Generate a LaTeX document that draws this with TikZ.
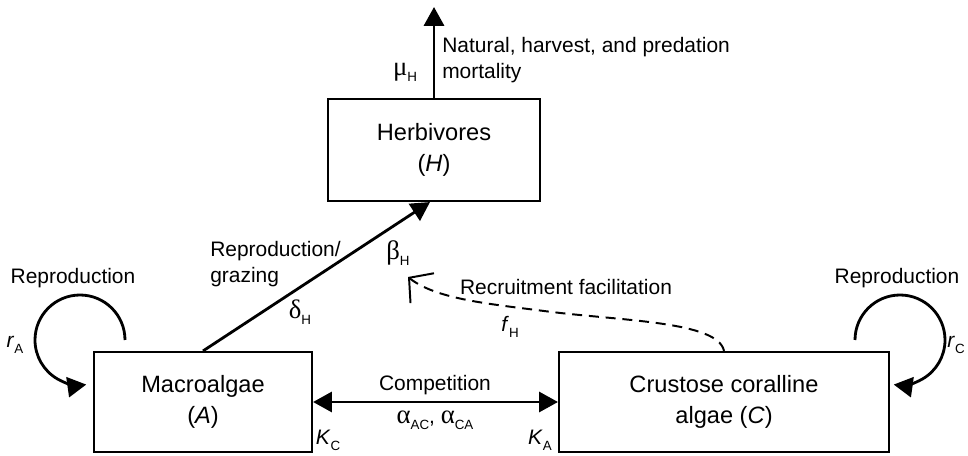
\documentclass[tikz,border=0pt]{standalone}
\usepackage{fontspec}
\setmainfont{Liberation Sans}
\newfontfamily\grk{Liberation Serif}
\usepackage{xcolor}
\usepackage{tikz}
\usetikzlibrary{positioning,arrows.meta}

\newcommand{\gsym}[1]{{\grk\fontsize{19}{19}\selectfont #1}}
\newcommand{\lowsub}[1]{\raisebox{-0.55ex}{\fontsize{9.5}{10}\selectfont #1}}

\begin{document}
\begin{tikzpicture}[
		box/.style={draw, line width=1.5pt, minimum height=2.5cm, align=center, font=\fontsize{16.8}{22}\selectfont},
		lab/.style={font=\fontsize{14.9}{18.5}\selectfont, inner sep=0pt},
		flow/.style={-{Triangle[length=0.47cm,width=0.5cm]}, line width=2pt},
	]
		\useasboundingbox (0,0) rectangle (24.2,11.375);

		\node[box, minimum width=5.3cm, minimum height=2.55cm] (h) at (10.85,7.625) {Herbivores\\(\textit{H})};
		\node[box, minimum width=5.45cm] (a) at (5.075,1.325) {Macroalgae\\(\textit{A})};
		\node[box, minimum width=8.25cm] (c) at (18.1,1.325) {Crustose coralline\\algae (\textit{C})};

		\coordinate (top) at (10.85,11.2);
		\coordinate (fac) at (10.2,4.45);
		\coordinate (la) at (3.125,2.875);
		\coordinate (lc) at (21.375,2.875);

		\draw[flow] (h.north) -- (top);
		\draw[flow] (a.north) -- ([xshift=-0.1cm]h.south);
		\draw[{Triangle[length=0.47cm,width=0.5cm]}-{Triangle[length=0.47cm,width=0.5cm]}, line width=2pt] (a.east) -- (c.west);
		\draw[dash pattern=on 0.25cm off 0.17cm, line width=1.4pt, -{Straight Barb[length=0.42cm,width=0.95cm]}]
			(c.north) .. controls (17.95,3.35) and (15.5,3.35) .. (13.6,3.6)
			.. controls (12.2,3.78) and (10.9,3.9) .. (fac);

		\draw[flow] (la) arc[start angle=0, end angle=278, radius=1.125cm];
		\draw[flow] (lc) arc[start angle=180, end angle=-98, radius=1.125cm];

		\node[lab] (mu) at (10.125,9.575) {\gsym{μ}\lowsub{H}};
		\node[lab, align=left, anchor=west] (mort) at (11.05,9.875) {Natural, harvest, and predation\\mortality};
		\node[lab, align=left, anchor=west] (rg) at (5.25,4.775) {Reproduction/\\grazing};
		\node[lab] (beta) at (9.95,5.05) {\gsym{β}\lowsub{H}};
		\node[lab] (delta) at (7.5,3.575) {\gsym{δ}\lowsub{H}};
		\node[lab] (rf) at (14.15,4.2) {Recruitment facilitation};
		\node[lab] (fh) at (12.75,3.2) {\textit{f}\lowsub{H}};
		\node[lab] (comp) at (10.875,1.75) {Competition};
		\node[lab] (alpha) at (10.875,0.875) {\gsym{α}\lowsub{AC}, \gsym{α}\lowsub{CA}};
		\node[lab] (kc) at (8.2,0.36) {\textit{K}\lowsub{C}};
		\node[lab] (ka) at (13.5,0.36) {\textit{K}\lowsub{A}};
		\node[lab] (repa) at (1.825,4.425) {Reproduction};
		\node[lab] (repc) at (22.425,4.425) {Reproduction};
		\node[lab] (ra) at (0.375,2.75) {\textit{r}\lowsub{A}};
		\node[lab] (rc) at (23.9,2.75) {\textit{r}\lowsub{C}};
	\end{tikzpicture}
\end{document}
